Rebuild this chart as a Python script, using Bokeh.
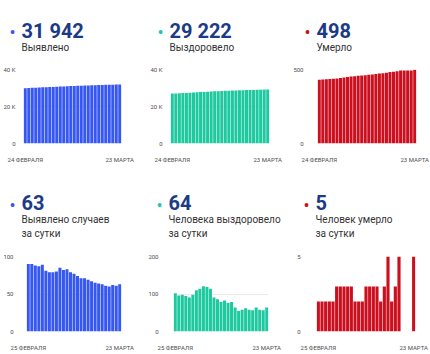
from bokeh.plotting import figure
from bokeh.layouts import row, column
from bokeh.models import Range1d, FixedTicker, Label, ColumnDataSource
from bokeh.embed import file_html
from bokeh.resources import INLINE

# ---------------- data ----------------
total_cases = [29922, 30012, 30102, 30190, 30277, 30366, 30447, 30526, 30605, 30685,
               30770, 30852, 30935, 31014, 31091, 31165, 31236, 31307, 31376, 31443,
               31508, 31572, 31635, 31696, 31756, 31818, 31879, 31942]
total_recovered = [26972, 27074, 27170, 27268, 27363, 27454, 27552, 27662, 27776, 27897,
                   28016, 28130, 28221, 28307, 28386, 28469, 28546, 28625, 28689, 28744,
                   28802, 28864, 28922, 28979, 29043, 29101, 29158, 29222]
total_deaths = [430, 432, 434, 436, 438, 440, 443, 446, 449, 452, 455, 457, 459, 461,
                464, 467, 470, 473, 475, 478, 483, 485, 488, 493, 493, 493, 493, 498]
daily_cases = [90, 90, 88, 87, 89, 81, 79, 79, 80, 85, 82, 83, 79, 77, 74, 71, 71, 69,
               67, 65, 64, 63, 61, 60, 62, 61, 63]
daily_recovered = [102, 96, 98, 95, 91, 98, 110, 114, 121, 119, 114, 91, 86, 79, 83, 77,
                   79, 64, 55, 58, 62, 58, 57, 64, 58, 57, 64]
daily_deaths = [2, 2, 2, 2, 2, 3, 3, 3, 3, 3, 2, 2, 2, 3, 3, 3, 3, 2, 3, 5, 2, 3, 5,
                0, 0, 0, 5]

headlines = ["31 942", "29 222", "498", "63", "64", "5"]
captions = [["Выявлено"], ["Выздоровело"], ["Умерло"],
            ["Выявлено случаев", "за сутки"],
            ["Человека выздоровело", "за сутки"],
            ["Человек умерло", "за сутки"]]
top_dates = ["24 ФЕВРАЛЯ", "23 МАРТА"]
bottom_dates = ["25 ФЕВРАЛЯ", "23 МАРТА"]
ticks_k = [0, 20000, 40000]
ticks_k_labels = ["0", "20 K", "40 K"]
ticks_deaths = [0, 500]
ticks_deaths_labels = ["0", "500"]
ticks_daily_cases = [0, 50, 100]
ticks_daily_cases_labels = ["0", "50", "100"]
ticks_daily_rec = [0, 100, 200]
ticks_daily_rec_labels = ["0", "100", "200"]
ticks_daily_deaths = [0, 5]
ticks_daily_deaths_labels = ["0", "5"]

BLUE = "#3657f2"
GREEN = "#1fc9a0"
RED = "#cc0f1f"
NAVY = "#1b3a87"
FONT = "Roboto"


def header(w, h, bl, color, headline, caption, top_row):
    hp = figure(width=w, height=h, output_backend="svg", toolbar_location=None,
                x_range=Range1d(0, w), y_range=Range1d(0, h),
                x_axis_location=None, y_axis_location=None,
                min_border_left=0, min_border_right=0, min_border_top=0,
                min_border_bottom=0)
    hp.grid.visible = False
    hp.outline_line_color = None
    if top_row:
        num_y, dot_y, cap_ys = 34, 32, [17]
    else:
        num_y, dot_y, cap_ys = 49, 46, [32, 18]
    hp.add_layout(Label(x=bl - 10, y=dot_y, x_units="screen", y_units="screen", text="•",
                        text_color=color, text_font=FONT, text_font_size="18px",
                        text_align="center", text_baseline="alphabetic"))
    hp.add_layout(Label(x=bl - 1, y=num_y, x_units="screen", y_units="screen", text=headline,
                        text_color=NAVY, text_font=FONT, text_font_size="20px",
                        text_font_style="bold", text_baseline="alphabetic"))
    for line, cy in zip(caption, cap_ys):
        hp.add_layout(Label(x=bl - 1, y=cy, x_units="screen", y_units="screen", text=line,
                            text_color="#333333", text_font=FONT, text_font_size="10px",
                            text_baseline="alphabetic"))
    return hp


def panel(values, color, y_max, ticks, tick_labels, date_labels, headline, caption,
          w, bl, br, y_standoff, top_row):
    n = len(values)
    if top_row:
        head_h, frame_h, bb = 64, 76, 20
    else:
        head_h, frame_h, bb = 86, 75, 23
    bt = 5
    src = ColumnDataSource(dict(x=list(range(n)), top=values))
    p = figure(width=w, height=bt + frame_h + bb, output_backend="svg",
               toolbar_location=None,
               x_range=Range1d(-0.5, n - 0.5), y_range=Range1d(0, y_max),
               min_border_left=bl, min_border_right=br, min_border_top=bt,
               min_border_bottom=bb)
    p.vbar(x="x", top="top", bottom=0, width=0.86, fill_color=color,
           line_color=None, source=src)
    p.outline_line_color = None
    p.xgrid.visible = False
    p.ygrid.grid_line_color = "#ebebeb"
    p.ygrid.ticker = FixedTicker(ticks=ticks)

    p.yaxis.ticker = FixedTicker(ticks=ticks)
    p.yaxis.major_label_overrides = {t: l for t, l in zip(ticks, tick_labels)}
    p.xaxis.ticker = FixedTicker(ticks=[0, n - 1])
    p.xaxis.major_label_overrides = {0: date_labels[0], n - 1: date_labels[1]}
    for ax in (p.xaxis, p.yaxis):
        ax.axis_line_color = None
        ax.major_tick_line_color = None
        ax.minor_tick_line_color = None
        ax.major_label_text_font = FONT
        ax.major_label_text_font_size = "6px"
        ax.major_label_text_color = "#4d4d4d"
    p.yaxis.major_label_standoff = y_standoff
    p.xaxis.major_label_standoff = 6

    hp = header(w, head_h, bl, color, headline, caption, top_row)
    return hp, p


h1, c1 = panel(total_cases, BLUE, 40000, ticks_k, ticks_k_labels, top_dates, headlines[0],
               captions[0], 145, 22, 24, 2, True)
h2, c2 = panel(total_recovered, GREEN, 40000, ticks_k, ticks_k_labels, top_dates,
               headlines[1], captions[1], 145, 25, 21, 2, True)
h3, c3 = panel(total_deaths, RED, 500, ticks_deaths, ticks_deaths_labels, top_dates,
               headlines[2], captions[2], 140, 27, 14, 8, True)
h4, c4 = panel(daily_cases, BLUE, 100, ticks_daily_cases, ticks_daily_cases_labels,
               bottom_dates, headlines[3], captions[3], 145, 22, 24, 7, False)
h5, c5 = panel(daily_recovered, GREEN, 200, ticks_daily_rec, ticks_daily_rec_labels,
               bottom_dates, headlines[4], captions[4], 145, 24, 22, 9, False)
h6, c6 = panel(daily_deaths, RED, 5, ticks_daily_deaths, ticks_daily_deaths_labels,
               bottom_dates, headlines[5], captions[5], 140, 26, 15, 10, False)

layout = column(row(h1, h2, h3, spacing=0), row(c1, c2, c3, spacing=0),
                row(h4, h5, h6, spacing=0), row(c4, c5, c6, spacing=0), spacing=0)
open("out.html", "w").write(file_html(layout, INLINE))
